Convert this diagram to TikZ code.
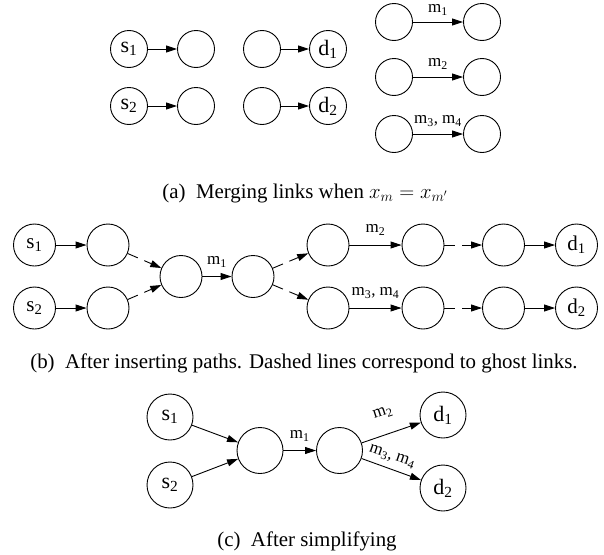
\documentclass[tikz,border=0pt]{standalone}
\usepackage{fontspec}
\setmainfont{Liberation Serif}
\usetikzlibrary{arrows.meta}
\tikzset{
  nd/.style={draw, circle, line width=0.9pt, inner sep=0pt},
  na/.style={nd, minimum size=37pt, font=\fontsize{22}{22}\selectfont},
  nb/.style={nd, minimum size=42pt, font=\fontsize{21}{21}\selectfont},
  nc/.style={nd, minimum size=46pt, font=\fontsize{22}{22}\selectfont},
  link/.style={line width=0.9pt, -{Triangle[length=11pt,width=7pt]}},
  ghost/.style={link, dash pattern=on 11pt off 7pt},
  lbl/.style={font=\fontsize{17}{17}\selectfont, inner sep=0pt},
  captext/.style={font=\fontsize{20.9}{21}\selectfont, anchor=base},
}
\begin{document}
\begin{tikzpicture}[x=1pt,y=-1pt]
\useasboundingbox (0,0) rectangle (604,554);
% ---------- (a)
\node[na] (as1) at (129,49) {s\textsubscript{1}};
\node[na] (aa1) at (196,49) {};
\node[na] (as2) at (129,106) {s\textsubscript{2}};
\node[na] (aa2) at (196,106) {};
\node[na] (ab1) at (262,49) {};
\node[na] (ad1) at (328,49) {d\textsubscript{1}};
\node[na] (ab2) at (262,106) {};
\node[na] (ad2) at (328,106) {d\textsubscript{2}};
\node[na] (am1a) at (394,22) {};
\node[na] (am1b) at (482,22) {};
\node[na] (am2a) at (394,77) {};
\node[na] (am2b) at (482,77) {};
\node[na] (am3a) at (394,134) {};
\node[na] (am3b) at (482,134) {};
\draw[link] (as1) -- (aa1);
\draw[link] (as2) -- (aa2);
\draw[link] (ab1) -- (ad1);
\draw[link] (ab2) -- (ad2);
\draw[link] (am1a) -- node[lbl, above=6pt] {m\textsubscript{1}} (am1b);
\draw[link] (am2a) -- node[lbl, above=7pt] {m\textsubscript{2}} (am2b);
\draw[link] (am3a) -- node[lbl, above=7pt] {m\textsubscript{3}, m\textsubscript{4}} (am3b);
\node[captext] (capa) at (305,198) {(a)\hspace{0.5em}Merging links when $x_m = x_{m'}$};
% ---------- (b)
\node[nb] (bs1) at (34.5,245) {s\textsubscript{1}};
\node[nb] (bp1) at (108,245) {};
\node[nb] (bs2) at (34.5,308) {s\textsubscript{2}};
\node[nb] (bp2) at (108,308) {};
\node[nb] (bma) at (181,276.5) {};
\node[nb] (bmb) at (253,276.5) {};
\node[nb] (bu1) at (328,245) {};
\node[nb] (bu2) at (423,245) {};
\node[nb] (bu3) at (503.5,245) {};
\node[nb] (bd1) at (576.5,245) {d\textsubscript{1}};
\node[nb] (bl1) at (328,308) {};
\node[nb] (bl2) at (423,308) {};
\node[nb] (bl3) at (503.5,308) {};
\node[nb] (bd2) at (576.5,308) {d\textsubscript{2}};
\draw[link] (bs1) -- (bp1);
\draw[link] (bs2) -- (bp2);
\draw[ghost] (bp1) -- (bma);
\draw[ghost] (bp2) -- (bma);
\draw[link] (bma) -- node[lbl, above=9pt] {m\textsubscript{1}} (bmb);
\draw[ghost] (bmb) -- (bu1);
\draw[ghost] (bmb) -- (bl1);
\draw[link] (bu1) -- node[lbl, above=9pt] {m\textsubscript{2}} (bu2);
\draw[link] (bl1) -- node[lbl, above=9pt] {m\textsubscript{3}, m\textsubscript{4}} (bl2);
\draw[ghost] (bu2) -- (bu3);
\draw[ghost] (bl2) -- (bl3);
\draw[link] (bu3) -- (bd1);
\draw[link] (bl3) -- (bd2);
\node[captext] (capb) at (304,368.5) {(b)\hspace{0.5em}After inserting paths. Dashed lines correspond to ghost links.};
% ---------- (c)
\node[nc] (cs1) at (170,417) {s\textsubscript{1}};
\node[nc] (cs2) at (170,485) {s\textsubscript{2}};
\node[nc] (cma) at (260,450.5) {};
\node[nc] (cmb) at (339.5,450.5) {};
\node[nc] (cd1) at (443,415) {d\textsubscript{1}};
\node[nc] (cd2) at (443,488) {d\textsubscript{2}};
\draw[link] (cs1) -- (cma);
\draw[link] (cs2) -- (cma);
\draw[link] (cma) -- node[lbl, above=9pt] {m\textsubscript{1}} (cmb);
\draw[link] (cmb) -- (cd1);
\draw[link] (cmb) -- (cd2);
\node[lbl, rotate=18] (lm2) at (383,413) {m\textsubscript{2}};
\node[lbl, rotate=-19] (lm34) at (392,457) {m\textsubscript{3}, m\textsubscript{4}};
\node[captext] (capc) at (307,546) {(c)\hspace{0.5em}After simplifying};
\end{tikzpicture}
\end{document}
